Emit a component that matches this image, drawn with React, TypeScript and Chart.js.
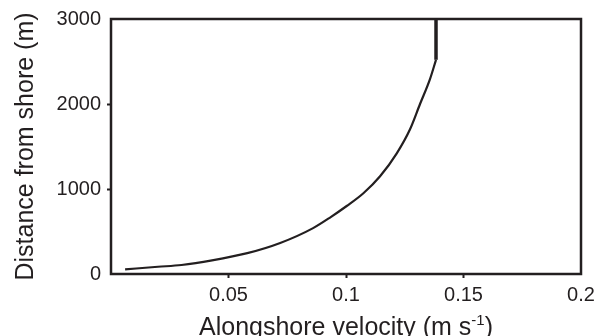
import React, { useEffect, useRef } from "react";
import { Chart, registerables } from "chart.js";

Chart.register(...registerables);

// Data
const velocity = [0.006, 0.02, 0.03, 0.043, 0.058, 0.072, 0.086, 0.0935, 0.1003, 0.1074, 0.1145, 0.1216, 0.1272, 0.1315, 0.1357, 0.1383];
const distance = [55, 85, 106, 160, 245, 365, 540, 670, 800, 950, 1150, 1420, 1700, 2000, 2290, 2520];
const capVelocity = [0.1383, 0.1383];
const capDistance = [2520, 3000];
const xTickValues = [0.05, 0.1, 0.15, 0.2];
const yTickValues = [0, 1000, 2000, 3000];
const xTitle = "Alongshore velocity (m s";
const xTitleSup = "-1";
const xTitleEnd = ")";
const yTitle = "Distance from shore (m)";

const INK = "#231f20";
const FONT = "'Liberation Sans', Arial, Helvetica, sans-serif";

const framePlugin = {
  id: "frame",
  afterDraw(chart: any) {
    const { ctx, chartArea } = chart;
    const { left, right, top, bottom } = chartArea;
    ctx.save();
    ctx.strokeStyle = INK;
    ctx.lineWidth = 2.5;
    ctx.strokeRect(left, top, right - left, bottom - top);

    // x title with superscript
    const mainSize = 25;
    const supSize = 15;
    ctx.fillStyle = INK;
    ctx.textBaseline = "alphabetic";
    ctx.font = `${mainSize}px ${FONT}`;
    const w1 = ctx.measureText(xTitle).width;
    const w3 = ctx.measureText(xTitleEnd).width;
    ctx.font = `${supSize}px ${FONT}`;
    const w2 = ctx.measureText(xTitleSup).width;
    const total = w1 + w2 + w3;
    const cx = (left + right) / 2;
    let x = cx - total / 2;
    const baseY = 334.5;
    ctx.textAlign = "left";
    ctx.font = `${mainSize}px ${FONT}`;
    ctx.fillText(xTitle, x, baseY);
    x += w1;
    ctx.font = `${supSize}px ${FONT}`;
    ctx.fillText(xTitleSup, x, baseY - 10);
    x += w2;
    ctx.font = `${mainSize}px ${FONT}`;
    ctx.fillText(xTitleEnd, x, baseY);

    // y title
    ctx.translate(26, (top + bottom) / 2);
    ctx.rotate(-Math.PI / 2);
    ctx.textAlign = "center";
    ctx.textBaseline = "middle";
    ctx.font = `${mainSize}px ${FONT}`;
    ctx.fillText(yTitle, 0, 0);
    ctx.restore();
  },
};

export default function App() {
  const ref = useRef<HTMLCanvasElement | null>(null);

  useEffect(() => {
    document.body.style.margin = "0";
    const canvas = ref.current;
    if (!canvas) return;
    const curve = velocity.map((v, i) => ({ x: v, y: distance[i] }));
    const cap = capVelocity.map((v, i) => ({ x: v, y: capDistance[i] }));
    const chart = new Chart(canvas, {
      type: "scatter",
      data: {
        datasets: [
          {
            data: curve,
            showLine: true,
            borderColor: INK,
            borderWidth: 2.2,
            pointRadius: 0,
            cubicInterpolationMode: "monotone",
            fill: false,
          },
          {
            data: cap,
            showLine: true,
            borderColor: INK,
            borderWidth: 3.5,
            pointRadius: 0,
            fill: false,
          },
        ],
      },
      options: {
        animation: false,
        responsive: false,
        maintainAspectRatio: false,
        layout: { padding: { top: 19, right: 19, left: 0, bottom: 0 } },
        plugins: {
          legend: { display: false },
          tooltip: { enabled: false },
          title: { display: false },
        },
        scales: {
          x: {
            type: "linear",
            min: 0,
            max: 0.2,
            afterBuildTicks: (axis: any) => {
              axis.ticks = [0, ...xTickValues].map((v) => ({ value: v }));
            },
            afterFit: (axis: any) => {
              axis.height = 62;
            },
            ticks: {
              autoSkip: false,
              maxRotation: 0,
              padding: 5,
              color: INK,
              font: { family: FONT, size: 20 },
              callback: (v: any) => (v === 0 ? "" : String(v)),
            },
            grid: {
              drawOnChartArea: false,
              drawTicks: true,
              tickLength: 4,
              tickWidth: 2,
              tickColor: (c: any) =>
                c.tick && (c.tick.value === 0 || c.tick.value === 0.2) ? "rgba(0,0,0,0)" : INK,
            },
            border: { display: false },
          },
          y: {
            type: "linear",
            min: 0,
            max: 3000,
            afterBuildTicks: (axis: any) => {
              axis.ticks = yTickValues.map((v) => ({ value: v }));
            },
            afterFit: (axis: any) => {
              axis.width = 111;
            },
            ticks: {
              autoSkip: false,
              padding: 6,
              color: INK,
              font: { family: FONT, size: 20 },
              callback: (v: any) => String(v),
            },
            grid: {
              drawOnChartArea: false,
              drawTicks: true,
              tickLength: 4,
              tickWidth: 2,
              tickColor: (c: any) =>
                c.tick && (c.tick.value === 0 || c.tick.value === 3000) ? "rgba(0,0,0,0)" : INK,
            },
            border: { display: false },
          },
        },
      },
      plugins: [framePlugin],
    });
    return () => chart.destroy();
  }, []);

  return (
    <div style={{ position: "fixed", left: 0, top: 0, width: 600, height: 336, background: "#fff" }}>
      <canvas ref={ref} width={600} height={336} style={{ width: 600, height: 336, display: "block" }} />
    </div>
  );
}
